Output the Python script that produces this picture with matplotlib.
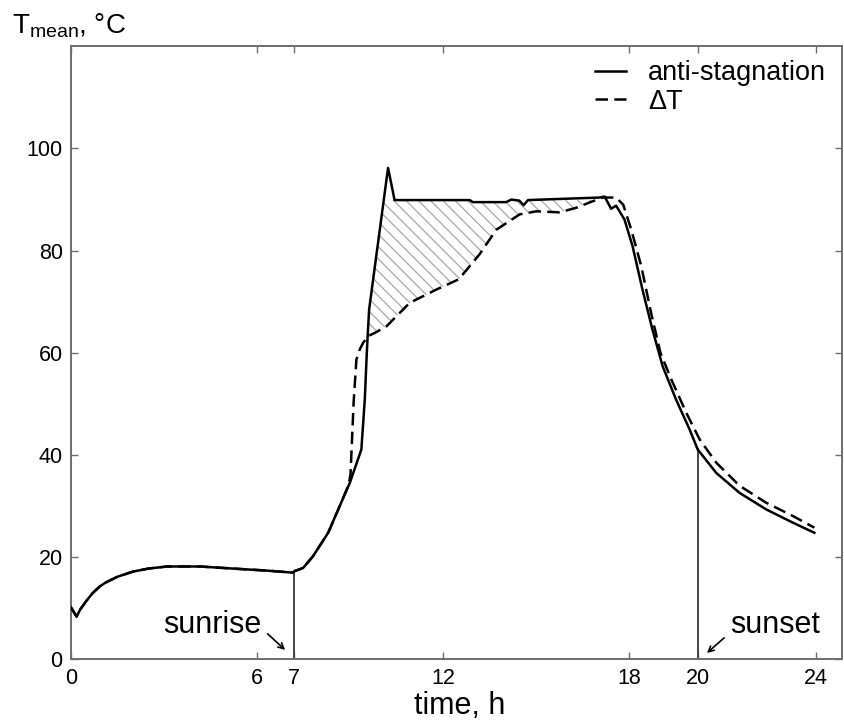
import matplotlib
matplotlib.use('Agg')
import matplotlib.pyplot as plt
from matplotlib.collections import LineCollection
from matplotlib.patches import Polygon
import numpy as np

plt.rcParams['font.family'] = ['Liberation Sans', 'DejaVu Sans']

# anti-stagnation control (solid)
t_anti = [0, 0.18, 0.3, 0.5, 0.7, 0.93, 1.1, 1.5, 2.0, 2.5, 3.1, 4.15, 5.2,
          6.3, 7.15, 7.21, 7.48, 7.8, 8.29, 8.66, 8.99, 9.36, 9.47, 9.54, 9.61,
          10.22, 10.43, 12.85, 12.95, 14.03, 14.19, 14.45, 14.59, 14.73, 17.04,
          17.2, 17.41, 17.57, 17.84, 18.1, 18.42, 18.74, 19.07, 19.5, 19.94,
          20.2, 20.8, 21.55, 22.4, 23.26, 23.96]
T_anti = [10.2, 8.4, 9.8, 11.5, 13.0, 14.3, 15.0, 16.2, 17.2, 17.8, 18.2, 18.2,
          17.8, 17.4, 17.0, 17.3, 17.9, 20.2, 24.8, 30.0, 34.6, 41.1, 50.9, 60.7,
          68.5, 96.2, 89.9, 89.9, 89.5, 89.5, 90.0, 89.8, 88.9, 89.9, 90.4, 90.6,
          88.2, 88.8, 86.1, 80.9, 72.4, 64.6, 57.4, 50.9, 45.0, 41.1, 36.5, 32.6,
          29.4, 26.8, 24.8]

# delta-T control (dashed)
t_dt = [0, 0.18, 0.3, 0.5, 0.7, 0.93, 1.1, 1.5, 2.0, 2.5, 3.1, 4.15, 5.2, 6.3,
        7.15, 7.21, 7.48, 7.8, 8.29, 8.66, 8.95, 9.01, 9.11, 9.2, 9.31, 9.42,
        9.58, 9.79, 10.17, 10.92, 11.78, 12.5, 13.17, 13.71, 14.46, 15.0,
        15.75, 16.29, 16.7, 17.14, 17.57, 17.8, 18.06, 18.38, 18.7, 19.0,
        19.35, 19.83, 20.26, 20.8, 21.55, 22.4, 23.26, 23.96]
T_dt = [10.2, 8.4, 9.8, 11.5, 13.0, 14.3, 15.0, 16.2, 17.2, 17.8, 18.2, 18.2,
        17.8, 17.4, 17.0, 17.3, 17.9, 20.2, 24.8, 30.0, 34.2, 36.2, 50.3, 58.7,
        60.7, 62.0, 63.3, 63.9, 65.2, 69.8, 72.4, 74.4, 79.3, 84.1, 87.1, 87.7,
        87.5, 88.4, 89.4, 90.4, 90.4, 89.0, 84.1, 77.0, 67.8, 60.0, 54.8, 48.3,
        43.1, 38.5, 34.0, 30.7, 28.1, 25.8]

t_sunrise = 7.18
t_sunset = 20.2
plateau = 89.9

xticks = [0, 6, t_sunrise, 12, 18, t_sunset, 24]
xtick_labels = ['0', '6', '7', '12', '18', '20', '24']
yticks = [0, 20, 40, 60, 80, 100]

fig = plt.figure(figsize=(8.45, 7.24), dpi=100)
ax = fig.add_axes([0.084, 0.0891, 0.9124, 0.847])
ax.set_xlim(0, 24.85)
ax.set_ylim(0, 120)

# hatched gain region between the two curves (hatch drawn as clipped lines)
xs = np.linspace(9.5, 17.2, 1000)
upper = np.minimum(np.interp(xs, t_anti, T_anti), plateau)
lower = np.interp(xs, t_dt, T_dt)
m = upper > lower
verts = np.concatenate([np.column_stack([xs[m], upper[m]]),
                        np.column_stack([xs[m][::-1], lower[m][::-1]])])
region = Polygon(verts, closed=True, facecolor='none', edgecolor='none', lw=0)
ax.add_patch(region)

p0 = ax.transData.transform((0, 0))
p1 = ax.transData.transform((1, 1))
k = (p1[0] - p0[0]) / (p1[1] - p0[1])   # degC per hour for a 45 deg line
step = 12.3 / (p1[0] - p0[0])           # ~12 px between hatch lines
segs = []
for c in np.arange(0.0, 26.0, step):
    segs.append([(c - 15, 100 + 15 * k), (c + 15, 100 - 15 * k)])
hatch = LineCollection(segs, colors='#a8a8a8', linewidths=0.9, zorder=1)
ax.add_collection(hatch)
hatch.set_clip_path(region)

ax.plot(t_anti, T_anti, color='black', lw=1.8, label='anti-stagnation', zorder=3)
ax.plot(t_dt, T_dt, color='black', lw=1.8, dashes=(5, 2.5), label='\u0394T', zorder=3)

# sunrise / sunset markers
ax.plot([t_sunrise, t_sunrise], [0, np.interp(t_sunrise, t_anti, T_anti)],
        color='#444444', lw=1.4, zorder=2)
ax.plot([t_sunset, t_sunset], [0, np.interp(t_sunset, t_anti, T_anti)],
        color='#444444', lw=1.4, zorder=2)

ax.text(6.15, 5.1, 'sunrise', fontsize=22, ha='right', va='baseline')
ax.annotate('', xy=(6.97, 1.5), xytext=(6.27, 5.4),
            arrowprops=dict(arrowstyle='->', lw=1.2, color='black'))
ax.text(21.23, 5.1, 'sunset', fontsize=22, ha='left', va='baseline')
ax.annotate('', xy=(20.43, 0.9), xytext=(21.12, 4.6),
            arrowprops=dict(arrowstyle='->', lw=1.2, color='black'))

ax.set_xlim(0, 24.85)
ax.set_ylim(0, 120)
ax.set_xticks(xticks)
ax.set_xticklabels(xtick_labels)
ax.set_yticks(yticks)

for sp in ax.spines.values():
    sp.set_color('#6e6e6e')
    sp.set_linewidth(1.4)
ax.tick_params(direction='in', length=5, width=1, color='#6e6e6e',
               labelsize=15.5, top=True, right=True, pad=6)

ax.set_xlabel('time, h', fontsize=22)
ax.xaxis.set_label_coords(0.5045, -0.052)

fig.text(12 / 845, 0.9544, r'$\mathregular{T_{mean}}$, °C', fontsize=20,
         ha='left', va='baseline')

ax.legend(loc='upper left', bbox_to_anchor=(595 / 845, 0.917),
          bbox_transform=fig.transFigure, frameon=False, fontsize=19.5,
          handlelength=1.15, handletextpad=0.8, labelspacing=0.1,
          borderpad=0, borderaxespad=0)

fig.savefig('out.png', dpi=100)
